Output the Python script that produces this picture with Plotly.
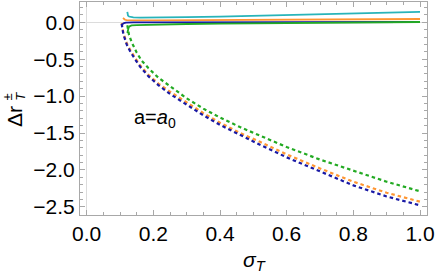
import plotly.graph_objects as go

# ---- data ----
x_dash_bo = [0.105, 0.11, 0.12, 0.13, 0.145, 0.16, 0.185, 0.215, 0.25, 0.3, 0.35, 0.4, 0.46, 0.52, 0.6, 0.7, 0.8, 0.9, 1.0]
y_dash_blue = [-0.02, -0.16, -0.30, -0.39, -0.50, -0.60, -0.73, -0.85, -0.97, -1.12, -1.26, -1.39, -1.53, -1.66, -1.83, -2.02, -2.21, -2.36, -2.48]
y_dash_orange = [-0.01, -0.14, -0.28, -0.37, -0.48, -0.58, -0.71, -0.83, -0.94, -1.09, -1.23, -1.36, -1.50, -1.62, -1.79, -1.98, -2.16, -2.31, -2.43]

x_dash_green = [0.122, 0.127, 0.135, 0.15, 0.165, 0.185, 0.215, 0.25, 0.3, 0.35, 0.4, 0.46, 0.52, 0.6, 0.7, 0.8, 0.9, 1.0]
y_dash_green = [-0.04, -0.17, -0.27, -0.41, -0.52, -0.62, -0.75, -0.87, -1.03, -1.17, -1.29, -1.42, -1.54, -1.69, -1.86, -2.01, -2.16, -2.29]

x_cyan = [0.122, 0.1225, 0.124, 0.127, 0.132, 0.14, 0.16, 0.2, 0.3, 0.4, 0.5, 0.6, 0.7, 0.8, 0.9, 1.0]
y_cyan = [0.14, 0.115, 0.09, 0.078, 0.07, 0.066, 0.063, 0.063, 0.07, 0.078, 0.088, 0.098, 0.108, 0.118, 0.129, 0.14]

x_orange = [0.109, 0.111, 0.115, 0.12, 0.13, 0.15, 0.2, 0.4, 0.6, 0.8, 1.0]
y_orange = [0.058, 0.045, 0.034, 0.029, 0.027, 0.026, 0.026, 0.029, 0.034, 0.039, 0.045]

x_blue = [0.106, 0.108, 0.112, 0.118, 0.125, 0.14, 0.2, 0.4, 0.6, 0.8, 1.0]
y_blue = [-0.032, -0.02, -0.01, -0.004, -0.001, 0.0, 0.0, 0.001, 0.002, 0.003, 0.004]

x_green = [0.122, 0.1235, 0.126, 0.13, 0.135, 0.15, 0.2, 0.3, 0.4, 0.6, 0.8, 1.0]
y_green = [-0.145, -0.1, -0.07, -0.052, -0.043, -0.037, -0.03, -0.023, -0.018, -0.01, -0.003, 0.004]

x_ticks = [0.0, 0.2, 0.4, 0.6, 0.8, 1.0]
y_ticks = [0.0, -0.5, -1.0, -1.5, -2.0, -2.5]

C_BLUE = "rgb(25,25,165)"
C_ORANGE = "rgb(255,150,50)"
C_GREEN = "rgb(35,170,35)"
C_CYAN = "rgb(40,180,185)"

fig = go.Figure()
dash = "3.5px,3px"
fig.add_trace(go.Scatter(x=x_dash_green, y=y_dash_green, mode="lines",
                         line=dict(color=C_GREEN, width=2.2, dash=dash)))
fig.add_trace(go.Scatter(x=x_dash_bo, y=y_dash_orange, mode="lines",
                         line=dict(color=C_ORANGE, width=2.2, dash=dash)))
fig.add_trace(go.Scatter(x=x_dash_bo, y=y_dash_blue, mode="lines",
                         line=dict(color=C_BLUE, width=2.2, dash=dash)))
fig.add_trace(go.Scatter(x=x_cyan, y=y_cyan, mode="lines",
                         line=dict(color=C_CYAN, width=1.8)))
fig.add_trace(go.Scatter(x=x_orange, y=y_orange, mode="lines",
                         line=dict(color=C_ORANGE, width=1.8)))
fig.add_trace(go.Scatter(x=x_blue, y=y_blue, mode="lines",
                         line=dict(color=C_BLUE, width=1.8)))
fig.add_trace(go.Scatter(x=x_green, y=y_green, mode="lines",
                         line=dict(color=C_GREEN, width=1.8)))

FRAME = "#a8a8a8"
FONT = "Liberation Sans, Arial, sans-serif"

fig.update_layout(
    width=436, height=273,
    margin=dict(l=80, r=9, t=2, b=58),
    paper_bgcolor="white", plot_bgcolor="white",
    showlegend=False,
    font=dict(family=FONT, color="black", size=20),
    xaxis=dict(range=[-0.020, 1.021], tickvals=x_ticks, tickformat=".1f",
               showgrid=False, zeroline=True, zerolinecolor="#dcdcdc", zerolinewidth=1,
               showline=True, linecolor=FRAME, linewidth=1, mirror="ticks",
               ticks="inside", ticklen=5, tickcolor=FRAME,
               minor=dict(dtick=0.05, ticks="inside", ticklen=3, tickcolor=FRAME, showgrid=False),
               tickfont=dict(size=21, family=FONT)),
    yaxis=dict(range=[-2.611, 0.275], tickvals=y_ticks, tickformat=".1f",
               showgrid=False, zeroline=True, zerolinecolor="#dcdcdc", zerolinewidth=1,
               showline=True, linecolor=FRAME, linewidth=1, mirror="ticks",
               ticks="inside", ticklen=5, tickcolor=FRAME,
               minor=dict(tickvals=[round(-2.6 + 0.1 * i, 1) for i in range(29)],
                          ticks="inside", ticklen=3, tickcolor=FRAME, showgrid=False),
               tickfont=dict(size=21, family=FONT)),
    annotations=[
        dict(text="a=<i>a</i><sub>0</sub>", x=0.205, y=-1.30, xref="x", yref="y",
             showarrow=False, font=dict(size=20, family=FONT)),
        dict(text="<i>σ</i><sub><i>T</i></sub>", x=0.504, y=-0.215, xref="paper", yref="paper",
             xanchor="center", yanchor="middle", showarrow=False, font=dict(size=21, family=FONT)),
        dict(text="Δr", x=-0.19, y=0.46, xref="paper", yref="paper", textangle=-90,
             xanchor="center", yanchor="middle", showarrow=False, font=dict(size=21, family=FONT)),
        dict(text="±", x=-0.208, y=0.555, xref="paper", yref="paper", textangle=-90,
             xanchor="center", yanchor="middle", showarrow=False, font=dict(size=13, family=FONT)),
        dict(text="<i>T</i>", x=-0.17, y=0.555, xref="paper", yref="paper", textangle=-90,
             xanchor="center", yanchor="middle", showarrow=False, font=dict(size=13, family=FONT)),
    ],
)

fig.write_html("out.html", post_script="document.body.style.margin='0';",
               config={"displayModeBar": False})
